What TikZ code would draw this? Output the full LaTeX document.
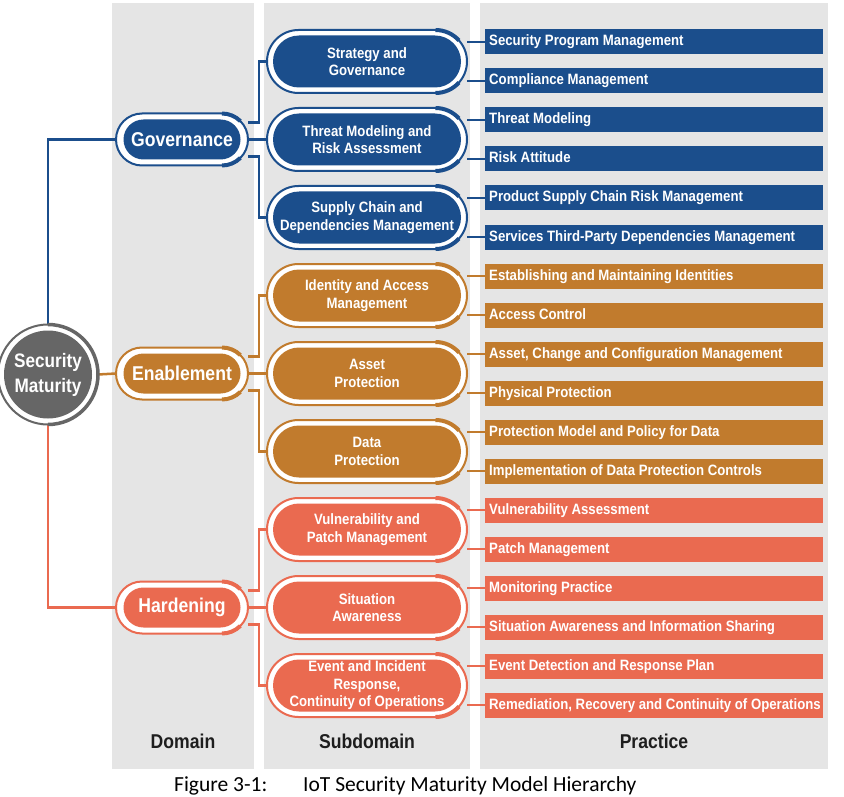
\documentclass[tikz,border=0pt]{standalone}
\usepackage{fontspec}
\setmainfont{Liberation Sans}
\newfontfamily\nfont{Liberation Sans}[FakeStretch=0.88]
\newfontfamily\capfont{Carlito}
\usetikzlibrary{calc}
\definecolor{gblue}{RGB}{27,78,140}
\definecolor{eorange}{RGB}{193,123,45}
\definecolor{hred}{RGB}{234,106,80}
\definecolor{smgray}{RGB}{102,102,102}
\definecolor{colgray}{RGB}{229,229,229}
\definecolor{headtxt}{RGB}{30,30,30}
\pgfdeclarelayer{back}\pgfdeclarelayer{wires}\pgfsetlayers{back,wires,main}
\tikzset{
 bar/.style={rectangle, anchor=west, minimum width=338pt, minimum height=25pt, inner sep=0pt, outer sep=0pt, draw=none},
 bartext/.style={anchor=west, inner sep=0pt, text=white, font=\nfont\bfseries\fontsize{15}{18}\selectfont, text height=11pt, text depth=3pt},
 subring/.style={rectangle, rounded corners=31.5pt, minimum width=200pt, minimum height=63pt, line width=2pt, fill=white, outer sep=0pt, inner sep=0pt},
 subfill/.style={rectangle, rounded corners=26pt, minimum width=188pt, minimum height=52pt, inner sep=0pt, text=white, align=center, font=\nfont\bfseries\fontsize{15}{17.5}\selectfont},
 domring/.style={rectangle, rounded corners=26pt, minimum width=132pt, minimum height=52pt, line width=2pt, fill=white, outer sep=0pt, inner sep=0pt},
 domfill/.style={rectangle, rounded corners=20pt, minimum width=117pt, minimum height=40pt, inner sep=0pt, text=white, font=\nfont\bfseries\fontsize{20}{24}\selectfont},
 wire/.style={line width=2.2pt},
 heavyarc/.style={line width=4pt},
 header/.style={text=headtxt, inner sep=0pt, font=\nfont\bfseries\fontsize{20}{24}\selectfont},
 captext/.style={anchor=base west, inner sep=0pt, font=\capfont\fontsize{21.5}{26}\selectfont},
}
\begin{document}
\begin{tikzpicture}[x=1pt,y=1pt]
\useasboundingbox (0,0) rectangle (844,-797);
\begin{pgfonlayer}{back}
\fill[white] (0,0) rectangle (844,-797);
\fill[colgray] (112,-3) rectangle (254,-769);
\fill[colgray] (264,-3) rectangle (470,-769);
\fill[colgray] (480,-3) rectangle (828,-769);
\end{pgfonlayer}

% Security Maturity
\node[circle, minimum size=100pt, line width=2pt, draw=smgray, fill=white, inner sep=0pt, outer sep=0pt] (sm) at (48,-374.5) {};
\node[circle, minimum size=88pt, fill=smgray, inner sep=0pt, text=white, align=center, font=\nfont\bfseries\fontsize{19.5}{25}\selectfont] (smf) at (48,-374.5) {Security\\Maturity};
\draw[smgray, line width=3.5pt] (sm.north) arc[start angle=90, end angle=-90, radius=50pt];

% Domains
\foreach \n/\y/\col/\t in {1/139.5/gblue/Governance, 2/373.5/eorange/Enablement, 3/607.5/hred/Hardening}{
 \node[domring, draw=\col] (d\n) at (182,-\y) {};
 \node[domfill, fill=\col] (df\n) at (182,-\y) {\t};
 \draw[\col, heavyarc] ($(d\n.north)+(40,0)$) arc[start angle=90, end angle=45, radius=26pt];
 \draw[\col, heavyarc] ($(d\n.south)+(40,0)$) arc[start angle=-90, end angle=-45, radius=26pt];
}

% Subdomains
\foreach \n/\y/\col/\t in {
 1/61.5/gblue/{Strategy and\\Governance},
 2/139.5/gblue/{Threat Modeling and\\Risk Assessment},
 3/217.5/gblue/{Supply Chain and\\Dependencies Management},
 4/295.5/eorange/{Identity and Access\\Management},
 5/373.5/eorange/{Asset\\Protection},
 6/451.5/eorange/{Data\\Protection},
 7/529.5/hred/{Vulnerability and\\Patch Management},
 8/607.5/hred/{Situation\\Awareness},
 9/685.5/hred/{Event and Incident\\Response,\\Continuity of Operations}}{
 \node[subring, draw=\col] (s\n) at (367,-\y) {};
 \node[subfill, fill=\col] (sf\n) at (367,-\y) {\t};
 \draw[\col, heavyarc] ($(s\n.north)+(68.5,0)$) arc[start angle=90, end angle=42, radius=31.5pt];
 \draw[\col, heavyarc] ($(s\n.south)+(68.5,0)$) arc[start angle=-90, end angle=-42, radius=31.5pt];
}

% Practices
\foreach \n/\col/\t in {
 0/gblue/{Security Program Management},
 1/gblue/{Compliance Management},
 2/gblue/{Threat Modeling},
 3/gblue/{Risk Attitude},
 4/gblue/{Product Supply Chain Risk Management},
 5/gblue/{Services Third-Party Dependencies Management},
 6/eorange/{Establishing and Maintaining Identities},
 7/eorange/{Access Control},
 8/eorange/{Asset, Change and Configuration Management},
 9/eorange/{Physical Protection},
 10/eorange/{Protection Model and Policy for Data},
 11/eorange/{Implementation of Data Protection Controls},
 12/hred/{Vulnerability Assessment},
 13/hred/{Patch Management},
 14/hred/{Monitoring Practice},
 15/hred/{Situation Awareness and Information Sharing},
 16/hred/{Event Detection and Response Plan},
 17/hred/{Remediation, Recovery and Continuity of Operations}}{
 \pgfmathsetmacro\yy{42+39*\n}
 \node[bar, fill=\col] (p\n) at (485,-\yy) {};
 \node[bartext] (pt\n) at ([xshift=4pt]p\n.west) {\t};
}

% Headers and caption
\node[header] (h1) at (183,-741) {Domain};
\node[header] (h2) at (367,-741) {Subdomain};
\node[header] (h3) at (654,-741) {Practice};
\node[captext] (cap1) at (174,-791) {Figure 3-1:};
\node[captext] (cap2) at (303,-791) {IoT Security Maturity Model Hierarchy};

% Connectors
\begin{pgfonlayer}{wires}
\draw[wire, gblue, line width=2.5pt] (sm.north) |- (d1.west);
\draw[wire, eorange, line width=2.5pt] (sm.east) -- (d2.west);
\draw[wire, hred, line width=2.5pt] (sm.south) |- (d3.west);
\foreach \d/\a/\b/\e/\col in {1/1/2/3/gblue, 2/4/5/6/eorange, 3/7/8/9/hred}{
 \draw[wire, \col] ([yshift=17pt]d\d.east) -- ++(11,0) |- (s\a.west);
 \draw[wire, \col] (d\d.east) -- (s\b.west);
 \draw[wire, \col] ([yshift=-17pt]d\d.east) -- ++(11,0) |- (s\e.west);
}
\foreach \k/\a/\b/\col in {1/0/1/gblue, 2/2/3/gblue, 3/4/5/gblue, 4/6/7/eorange, 5/8/9/eorange, 6/10/11/eorange, 7/12/13/hred, 8/14/15/hred, 9/16/17/hred}{
 \draw[wire, \col] (p\a.west) -- (p\a.west -| s\k.east);
 \draw[wire, \col] (p\b.west) -- (p\b.west -| s\k.east);
}
\end{pgfonlayer}
\end{tikzpicture}
\end{document}
